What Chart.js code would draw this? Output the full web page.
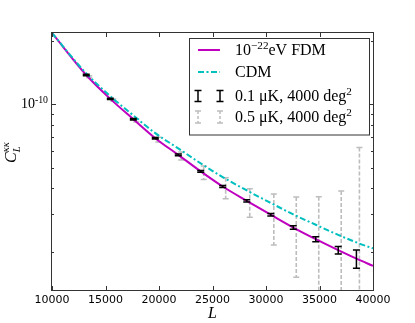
<!DOCTYPE html>
<html>
<head>
<meta charset="utf-8">
<script src="https://cdn.jsdelivr.net/npm/chart.js@4.4.1/dist/chart.umd.min.js"></script>
<style>
  html, body { margin: 0; padding: 0; background: #fff; }
</style>
</head>
<body>
<canvas id="chart" width="415" height="323"></canvas>
<script>
// lensing convergence spectrum
const fdmL = [10000, 13200, 15450, 17600, 19650, 21800, 23900, 25950, 28200, 30450, 32550, 34650, 36750, 38450, 40000];
const fdmC = [2.177e-10, 1.376e-10, 1.060e-10, 8.49e-11, 6.90e-11, 5.75e-11, 4.80e-11, 4.07e-11, 3.48e-11, 2.99e-11, 2.60e-11, 2.29e-11, 2.03e-11, 1.85e-11, 1.71e-11];
const cdmL = [10000, 13200, 15450, 17600, 19650, 21800, 23900, 25950, 28200, 30450, 32550, 34650, 36750, 38450, 40000];
const cdmC = [2.177e-10, 1.400e-10, 1.092e-10, 8.85e-11, 7.29e-11, 6.17e-11, 5.24e-11, 4.51e-11, 3.90e-11, 3.40e-11, 3.00e-11, 2.68e-11, 2.40e-11, 2.21e-11, 2.07e-11];

// binned forecasts: 0.1 uK (black) and 0.5 uK (grey), 4000 deg^2
const binL = [13200, 15450, 17600, 19650, 21800, 23900, 25950, 28200, 30450, 32550, 34650, 36750, 38450];
const binC = [1.376e-10, 1.060e-10, 8.49e-11, 6.90e-11, 5.75e-11, 4.80e-11, 4.07e-11, 3.48e-11, 2.99e-11, 2.60e-11, 2.29e-11, 2.03e-11, 1.85e-11];
const errBlack = [0.10e-11, 0.08e-11, 0.065e-11, 0.055e-11, 0.05e-11, 0.045e-11, 0.04e-11, 0.04e-11, 0.04e-11, 0.05e-11, 0.063e-11, 0.085e-11, 0.184e-11];
const binLGray = [13480, 15730, 17880, 19930, 22080, 24180, 26230, 28480, 30730, 32830, 34930, 37030, 38730];
const binCGray = [1.350e-10, 1.045e-10, 8.37e-11, 6.80e-11, 5.68e-11, 4.74e-11, 4.02e-11, 3.44e-11, 2.95e-11, 2.57e-11, 2.26e-11, 2.01e-11, 1.83e-11];
const errGray = [0.15e-11, 0.13e-11, 0.14e-11, 0.18e-11, 0.25e-11, 0.35e-11, 0.455e-11, 0.53e-11, 0.80e-11, 1.06e-11, 1.38e-11, 1.87e-11, 4.40e-11];

// axes
const xMin = 10000, xMax = 40000, xStep = 5000;
const yMin = 1.314e-11, yMax = 2.177e-10;
const yTickValues = [2e-11, 3e-11, 4e-11, 5e-11, 6e-11, 7e-11, 8e-11, 9e-11, 1e-10, 2e-10];
const yMajor = [1e-10];

const SERIF = '"Liberation Serif", "DejaVu Serif", serif';
const MAGENTA = '#bf00bf';
const CYAN = '#00bfbf';
const GREY = '#bdbdbd';

function pts(xs, ys, errs) {
  return xs.map((x, i) => errs ? { x, y: ys[i], err: errs[i] } : { x, y: ys[i] });
}

// draw "base" + superscript / subscript parts, left to right
function richText(ctx, parts, x, y, size, style) {
  parts.forEach(p => {
    let s = size, dy = 0;
    if (p.sup) { s = size * 0.7; dy = -size * 0.38; }
    if (p.sub) { s = size * 0.7; dy = size * 0.2; }
    ctx.font = `${style || ''} ${s}px ${SERIF}`;
    ctx.fillText(p.t, x, y + dy);
    x += ctx.measureText(p.t).width;
  });
  return x;
}

// vertical error bars, drawn right after their own dataset
const errorBars = {
  id: 'errorBars',
  afterDatasetDraw(chart, args) {
    const ds = chart.data.datasets[args.index];
    if (!ds.errStyle) return;
    const { ctx, chartArea: a, scales: { x, y } } = chart;
    const st = ds.errStyle;
    ctx.save();
    ctx.beginPath();
    ctx.rect(a.left, a.top, a.right - a.left, a.bottom - a.top);
    ctx.clip();
    ctx.strokeStyle = st.color;
    ds.data.forEach(p => {
      const px = x.getPixelForValue(p.x);
      const top = y.getPixelForValue(p.y + p.err);
      const lo = p.y - p.err;
      const bot = lo > 0 ? y.getPixelForValue(lo) : a.bottom + 10;
      ctx.lineWidth = st.width;
      ctx.setLineDash(st.dash || []);
      ctx.beginPath();
      ctx.moveTo(px, top);
      ctx.lineTo(px, bot);
      ctx.stroke();
      ctx.setLineDash([]);
      ctx.lineWidth = st.capWidth;
      ctx.beginPath();
      ctx.moveTo(px - st.cap, top); ctx.lineTo(px + st.cap, top);
      ctx.moveTo(px - st.cap, bot); ctx.lineTo(px + st.cap, bot);
      ctx.stroke();
    });
    ctx.restore();
  }
};

// frame, inward ticks, y tick label, y title, legend
const decorations = {
  id: 'decorations',
  afterDraw(chart) {
    const { ctx, chartArea: a, scales: { x, y } } = chart;
    ctx.save();
    ctx.strokeStyle = '#333';
    ctx.lineWidth = 1;
    ctx.strokeRect(a.left - 0.5, a.top - 0.5, a.right - a.left + 1, a.bottom - a.top + 1);

    ctx.beginPath();
    x.ticks.forEach(t => {
      const px = Math.round(x.getPixelForValue(t.value)) + 0.5;
      ctx.moveTo(px, a.bottom); ctx.lineTo(px, a.bottom - 4);
      ctx.moveTo(px, a.top); ctx.lineTo(px, a.top + 4);
    });
    y.ticks.forEach(t => {
      const py = Math.round(y.getPixelForValue(t.value)) + 0.5;
      const len = yMajor.includes(t.value) ? 4 : 2;
      ctx.moveTo(a.left, py); ctx.lineTo(a.left + len, py);
      ctx.moveTo(a.right, py); ctx.lineTo(a.right - len, py);
    });
    ctx.stroke();

    // y tick label 10^-10
    ctx.fillStyle = '#000';
    ctx.textBaseline = 'alphabetic';
    yMajor.forEach(v => {
      const py = y.getPixelForValue(v);
      ctx.font = `14px ${SERIF}`;
      const w1 = ctx.measureText('10').width;
      ctx.font = `${14 * 0.7}px ${SERIF}`;
      const w2 = ctx.measureText('-10').width;
      richText(ctx, [{ t: '10' }, { t: '-10', sup: true }], a.left - 4 - w1 - w2, py + 4, 14);
    });

    // y axis title C_L^{kk}
    ctx.save();
    ctx.translate(16, 152);
    ctx.rotate(-Math.PI / 2);
    ctx.font = `italic 16px ${SERIF}`;
    const cw = ctx.measureText('C').width;
    ctx.fillText('C', -11, 0);
    ctx.font = `italic 10.5px ${SERIF}`;
    ctx.fillText('L', -11 + cw, 3.5);
    ctx.fillText('\u03ba\u03ba', -11 + cw, -7.5);
    ctx.restore();

    // legend
    const lx = 189.5, ly = 38.5, lw = 180, lh = 96.5;
    ctx.fillStyle = '#fff';
    ctx.fillRect(lx, ly, lw, lh);
    ctx.strokeStyle = '#333';
    ctx.strokeRect(lx, ly, lw, lh);
    const x0 = 198, x1 = 220, tx = 235;
    const rows = [50, 72, 96, 117];

    ctx.lineWidth = 2;
    ctx.strokeStyle = MAGENTA;
    ctx.beginPath(); ctx.moveTo(x0, rows[0]); ctx.lineTo(x1, rows[0]); ctx.stroke();
    ctx.strokeStyle = CYAN;
    ctx.setLineDash([6, 2.5, 2, 2.5]);
    ctx.beginPath(); ctx.moveTo(x0, rows[1]); ctx.lineTo(x1, rows[1]); ctx.stroke();
    ctx.setLineDash([]);

    const legendBar = (px, cy, half, color, dash, cap) => {
      ctx.strokeStyle = color;
      ctx.lineWidth = 1.5;
      ctx.setLineDash(dash);
      ctx.beginPath(); ctx.moveTo(px, cy - half); ctx.lineTo(px, cy + half); ctx.stroke();
      ctx.setLineDash([]);
      ctx.beginPath();
      ctx.moveTo(px - cap, cy - half); ctx.lineTo(px + cap, cy - half);
      ctx.moveTo(px - cap, cy + half); ctx.lineTo(px + cap, cy + half);
      ctx.stroke();
    };
    [x0, x1].forEach(px => legendBar(px, rows[2], 5.5, '#000', [], 3.5));
    [x0, x1].forEach(px => legendBar(px, rows[3], 6, GREY, [3, 2], 3));

    ctx.fillStyle = '#000';
    const fs = 16;
    richText(ctx, [{ t: '10' }, { t: '\u221222', sup: true }, { t: 'eV FDM' }], tx, rows[0] + 5, fs);
    richText(ctx, [{ t: 'CDM' }], tx, rows[1] + 5, fs);
    richText(ctx, [{ t: '0.1 \u03bcK, 4000 deg' }, { t: '2', sup: true }], tx, rows[2] + 5, fs);
    richText(ctx, [{ t: '0.5 \u03bcK, 4000 deg' }, { t: '2', sup: true }], tx, rows[3] + 5, fs);
    ctx.restore();
  }
};

new Chart(document.getElementById('chart'), {
  type: 'scatter',
  data: {
    datasets: [
      { label: '0.5 uK, 4000 deg2', data: pts(binLGray, binCGray, errGray), pointRadius: 0, showLine: false, order: 4,
        errStyle: { color: GREY, width: 1.6, dash: [4, 2], cap: 3, capWidth: 1.5 } },
      { label: '1e-22 eV FDM', data: pts(fdmL, fdmC), showLine: true, pointRadius: 0, borderColor: MAGENTA, borderWidth: 2,
        cubicInterpolationMode: 'monotone', order: 3 },
      { label: 'CDM', data: pts(cdmL, cdmC), showLine: true, pointRadius: 0, borderColor: CYAN, borderWidth: 2,
        borderDash: [6, 2.5, 2, 2.5], cubicInterpolationMode: 'monotone', order: 2 },
      { label: '0.1 uK, 4000 deg2', data: pts(binL, binC, errBlack), pointRadius: 0, showLine: false, order: 1,
        errStyle: { color: '#000', width: 1.5, cap: 3.5, capWidth: 1.5 } }
    ]
  },
  options: {
    responsive: false,
    animation: false,
    layout: { padding: { top: 33, right: 42, left: 0, bottom: 0 } },
    plugins: { legend: { display: false }, tooltip: { enabled: false } },
    scales: {
      x: {
        type: 'linear', min: xMin, max: xMax,
        afterFit: s => { s.height = 33; },
        grid: { display: false, drawTicks: false },
        border: { display: false },
        ticks: { stepSize: xStep, padding: 4, color: '#000', maxRotation: 0, autoSkip: false,
          font: { family: 'DejaVu Sans', size: 11 }, callback: v => String(v) },
        title: { display: true, text: 'L', color: '#000', padding: 0,
          font: { family: SERIF, style: 'italic', size: 16 } }
      },
      y: {
        type: 'logarithmic', min: yMin, max: yMax,
        afterFit: s => { s.width = 52; },
        afterBuildTicks: s => { s.ticks = yTickValues.map(v => ({ value: v })); },
        grid: { display: false, drawTicks: false },
        border: { display: false },
        ticks: { display: false }
      }
    }
  },
  plugins: [errorBars, decorations]
});
</script>
</body>
</html>
